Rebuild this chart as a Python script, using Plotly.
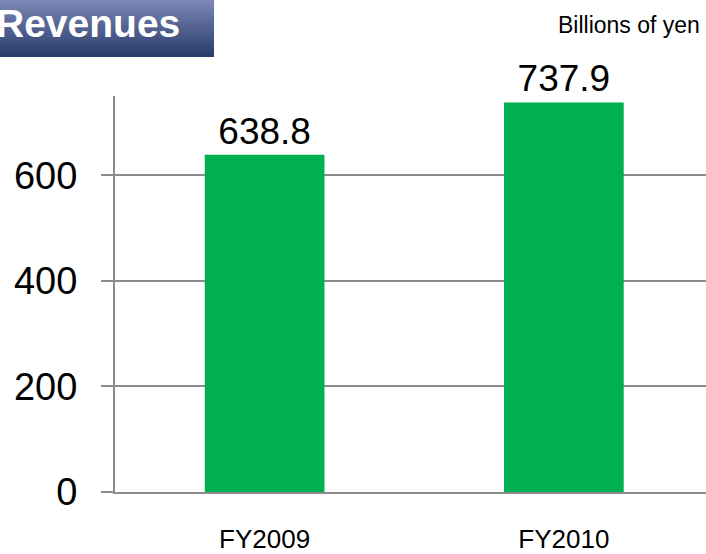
import plotly.graph_objects as go

# data
years = ["FY2009", "FY2010"]
revenues = [638.8, 737.9]
y_ticks = [0, 200, 400, 600]

FONT = "Arial, Liberation Sans, sans-serif"

fig = go.Figure()
fig.add_trace(go.Bar(
    x=years,
    y=revenues,
    width=0.4,
    marker=dict(color="#00b050", line=dict(width=0)),
    text=[f"{v:.1f}" for v in revenues],
    textposition="outside",
    textfont=dict(size=37, color="black", family=FONT),
    cliponaxis=False,
))

# blue gradient title box: each stripe runs down to the box bottom,
# later (darker) stripes cover the lower part, so no seams show
top_rgb = (124, 136, 182)
bot_rgb = (42, 60, 108)
n = 40
box_h = 57
box_bottom = 1 + (96 - box_h) / 396
for i in range(n):
    t = i / (n - 1)
    c = tuple(int(a + (b - a) * t) for a, b in zip(top_rgb, bot_rgb))
    fig.add_shape(type="rect", xref="paper", yref="paper",
                  x0=-115 / 591, x1=(214 - 115) / 591,
                  y0=box_bottom,
                  y1=1 + (96 - i * box_h / n) / 396,
                  line=dict(width=0), fillcolor="rgb(%d,%d,%d)" % c, layer="above")

fig.add_annotation(text="<b>Revenues</b>", xref="paper", yref="paper",
                   x=(182 - 115) / 591, y=1 + (96 - 23) / 396,
                   xanchor="right", yanchor="middle", showarrow=False,
                   font=dict(size=39, color="white", family=FONT))

fig.add_annotation(text="Billions of yen", xref="paper", yref="paper",
                   x=(702 - 115) / 591, y=1 + (96 - 25) / 396,
                   xanchor="right", yanchor="middle", showarrow=False,
                   font=dict(size=23, color="black", family=FONT))

fig.update_layout(
    width=706, height=554,
    margin=dict(l=115, r=0, t=96, b=62),
    paper_bgcolor="white", plot_bgcolor="white",
    showlegend=False,
    font=dict(family=FONT, color="black"),
)
fig.update_xaxes(
    range=[-0.5, 1.475],
    automargin=False,
    showline=True, linecolor="#8c8c8c", linewidth=2,
    showgrid=False, ticks="",
    tickfont=dict(size=26, color="black", family=FONT),
    ticklabelstandoff=23,
)
fig.update_yaxes(
    range=[0, 750],
    tickvals=y_ticks,
    automargin=False,
    showline=True, linecolor="#8c8c8c", linewidth=2,
    showgrid=True, gridcolor="#8c8c8c", gridwidth=1.5,
    zeroline=False,
    ticks="outside", ticklen=12, tickcolor="#8c8c8c", tickwidth=2,
    tickfont=dict(size=38, color="black", family=FONT),
    ticklabelstandoff=16,
)

# drop the page's default body margin so the chart sits at the window corner
fig.write_html("out.html", config={"displayModeBar": False},
               post_script="document.body.style.margin='0';")
